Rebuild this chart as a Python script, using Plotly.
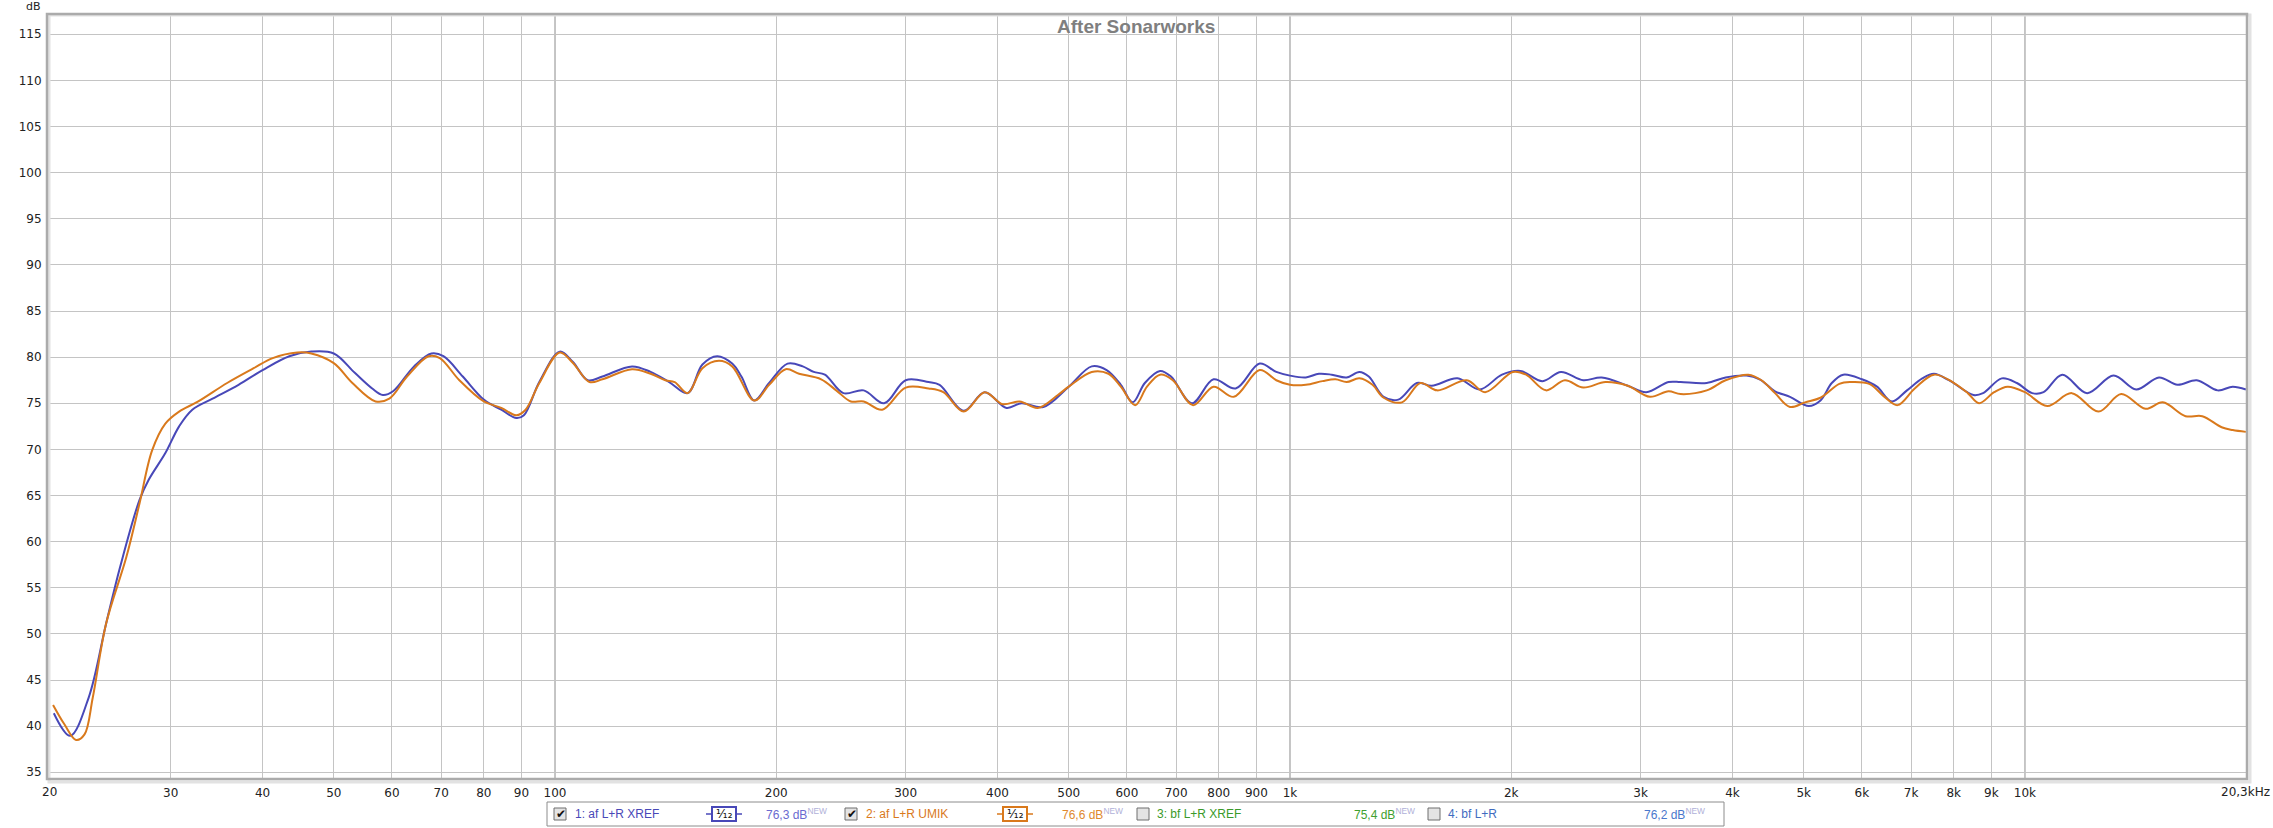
import plotly.graph_objects as go
import math

# ---------------- data ----------------
blue_freq = [20.8, 21.9, 23.2, 24.5, 25.6, 27.2, 28.0, 29.5, 30.8, 32.1, 34.2, 37.1, 40, 43.5, 46.6, 50,
             53.4, 56.4, 58.3, 60.2, 64.3, 67.9, 70.5, 74.9, 80, 84.5, 88.6, 90.7, 95.2, 101.5, 105.7,
             110.8, 116, 127.3, 134.9, 143, 151.5, 158.7, 166.2, 174.2, 179.3, 186.7, 195.6, 207.2,
             217.3, 224.9, 232.9, 246.8, 263, 280.4, 300, 322.3, 333.6, 359.8, 384.2, 411.4, 431.2,
             461.7, 500, 537.3, 563, 588.6, 611, 634.6, 665.5, 688.8, 735.6, 787, 843.5, 909.4, 958,
             1000, 1051, 1095, 1140, 1194, 1243, 1280, 1341, 1404, 1488, 1559, 1690, 1812, 1943, 2059,
             2206, 2337, 2506, 2655, 2881, 3053, 3274, 3400, 3690, 3915, 4180, 4355, 4570, 4790, 5080,
             5270, 5460, 5660, 6000, 6290, 6590, 6910, 7250, 7520, 7880, 8510, 8770, 9300, 9750,
             10230, 10600, 11240, 12150, 13200, 14170, 15220, 16130, 17130, 18290, 19170, 19980]
blue_db = [41.4, 38.95, 43.1, 51.1, 57.25, 64.5, 66.7, 69.6, 72.5, 74.3, 75.5, 77.0, 78.6, 80.1, 80.6, 80.4,
           78.3, 76.6, 75.9, 76.3, 79.0, 80.4, 80.1, 77.9, 75.4, 74.3, 73.4, 73.7, 77.3, 80.6, 79.5,
           77.5, 77.9, 79.0, 78.4, 77.3, 76.1, 79.2, 80.1, 79.3, 77.9, 75.3, 77.2, 79.3,
           79.0, 78.4, 78.1, 76.1, 76.4, 75.0, 77.5, 77.3, 77.0, 74.2, 76.2, 74.5, 75.0,
           74.6, 76.8, 79.0, 78.6, 77.0, 75.1, 77.2, 78.5, 77.9, 75.0, 77.6, 76.6, 79.3, 78.4,
           78.0, 77.8, 78.2, 78.1, 77.8, 78.4, 77.9, 75.7, 75.4, 77.2, 76.9, 77.7, 76.5, 78.1, 78.5,
           77.4, 78.4, 77.5, 77.8, 76.9, 76.2, 77.3, 77.3, 77.2, 77.8, 78.0, 77.6, 76.3, 75.7, 74.7,
           75.3, 77.2, 78.1, 77.6, 76.8, 75.2, 76.4, 77.7, 78.2, 77.5, 75.9, 76.1, 77.7, 77.2,
           76.1, 76.2, 78.1, 76.1, 78.0, 76.5, 77.8, 77.0, 77.5, 76.4, 76.8, 76.5]

orange_freq = [20.75, 21.5, 22.3, 22.9, 23.5, 24.5, 26.1, 27.2, 28.3, 29.5, 30.8, 32.7, 35.8, 38.9, 41.3,
               44.6, 46.6, 50, 53, 57, 59.5, 62.9, 67.3, 69.7, 74.1, 80, 84.5, 88.6, 91.2, 95.2, 101.5,
               105.7, 111.4, 116, 127.3, 134.9, 141.3, 145.5, 151.5, 158.7, 167.1, 174.2, 186.7, 195.6,
               206, 214.8, 230.2, 241.3, 252.6, 263, 278.7, 300, 322.3, 337.5, 359.8, 384.2, 406.4,
               428.8, 453.8, 483.3, 500, 537.3, 566.3, 588.6, 615.6, 638.9, 665.5, 692.7, 738.2, 787,
               838.5, 909.4, 958, 1000, 1051, 1107, 1153, 1194, 1243, 1295, 1341, 1420, 1505, 1586,
               1740, 1843, 2010, 2095, 2230, 2366, 2506, 2687, 2881, 3088, 3274, 3400, 3690, 3915,
               4205, 4380, 4570, 4790, 5020, 5270, 5590, 5790, 6140, 6440, 6710, 7080, 7520, 7970,
               8360, 8660, 9080, 9470, 10000, 10725, 11580, 12590, 13520, 14590, 15400, 16540, 17430,
               18520, 19170, 19980]
orange_db = [42.3, 40.2, 38.5, 39.1, 43.1, 51.1, 58.3, 64.1, 69.9, 72.8, 74.1, 75.2, 77.2, 78.8, 79.9,
             80.5, 80.4, 79.35, 77.2, 75.2, 75.5, 77.9, 80.1, 79.9, 77.5, 75.2, 74.5, 73.7, 74.3, 77.2, 80.5,
             79.4, 77.3, 77.6, 78.7, 78.2, 77.5, 77.3, 76.1, 78.8, 79.6, 79.0, 75.3, 77.0,
             78.7, 78.2, 77.6, 76.4, 75.2, 75.2, 74.3, 76.7, 76.6, 76.2, 74.1, 76.2, 74.9,
             75.2, 74.5, 75.9, 76.8, 78.4, 78.2, 76.8, 74.8, 76.8, 78.1, 77.5, 74.8, 76.8,
             75.7, 78.6, 77.5, 77.0, 77.0, 77.4, 77.6, 77.3, 77.7, 77.0, 75.6, 75.1, 77.2, 76.4,
             77.5, 76.2, 78.4, 78.1, 76.4, 77.5, 76.7, 77.3, 76.9, 75.7, 76.3, 76.0, 76.4, 77.5,
             78.1, 77.5, 76.1, 74.6, 75.1, 75.6, 77.1, 77.3, 77.1, 75.7, 74.8, 76.6, 78.1, 77.3,
             76.1, 75.0, 76.2, 76.8, 76.2, 74.7, 76.1, 74.1, 76.0, 74.4, 75.1, 73.6, 73.6,
             72.4, 72.1, 71.9]

x_tick_vals = [30, 40, 50, 60, 70, 80, 90, 100, 200, 300, 400, 500, 600, 700, 800, 900,
               1000, 2000, 3000, 4000, 5000, 6000, 7000, 8000, 9000, 10000]
x_tick_text = ["30", "40", "50", "60", "70", "80", "90", "100", "200", "300", "400", "500", "600",
               "700", "800", "900", "1k", "2k", "3k", "4k", "5k", "6k", "7k", "8k", "9k", "10k"]
x_edge_labels = ["20", "20,3kHz"]
major_freqs = [100, 1000, 10000]
y_tick_vals = list(range(35, 120, 5))

series_names = ["1: af L+R XREF", "2: af L+R UMIK", "3: bf L+R XREF", "4: bf L+R"]
series_levels = ["76,3 dB", "76,6 dB", "75,4 dB", "76,2 dB"]
series_checked = [True, True, False, False]
series_colors = ["#4848b8", "#d9791c", "#3a9a2a", "#3f6cc0"]
level_colors = ["#6a6ad0", "#e0892e", "#3f9f2f", "#4a78cc"]

# ---------------- geometry ----------------
W, H = 2273, 828
L, R, T, B = 47, 2247, 14, 779
x_range = [math.log10(20.36), math.log10(20050)]
y_range = [34.27, 117.2]


def px_x(x):
    return (x - L) / (R - L)


def px_y(y):
    return (B - y) / (B - T)


fig = go.Figure()

fig.add_trace(go.Scatter(x=blue_freq, y=blue_db, mode="lines", name=series_names[0],
                         line=dict(color=series_colors[0], width=2, shape="spline", smoothing=1.0),
                         hoverinfo="x+y"))
fig.add_trace(go.Scatter(x=orange_freq, y=orange_db, mode="lines", name=series_names[1],
                         line=dict(color=series_colors[1], width=2, shape="spline", smoothing=1.0),
                         hoverinfo="x+y"))

font_tick = dict(family="DejaVu Sans", size=12, color="#222222")

fig.update_layout(
    width=W, height=H,
    margin=dict(l=L, r=W - R, t=T, b=H - B),
    paper_bgcolor="white", plot_bgcolor="white",
    showlegend=False,
    xaxis=dict(type="log", range=x_range, tickvals=x_tick_vals, ticktext=x_tick_text,
               showgrid=True, gridcolor="#c4c4c4", gridwidth=1, zeroline=False, showline=False,
               ticks="outside", ticklen=3, tickcolor="rgba(0,0,0,0)", tickfont=font_tick),
    yaxis=dict(range=y_range, tickvals=y_tick_vals, showgrid=True, gridcolor="#c4c4c4", gridwidth=1,
               zeroline=False, showline=False, ticks="outside", ticklen=2,
               tickcolor="rgba(0,0,0,0)", tickfont=font_tick),
)

shapes = []
for f in major_freqs:
    shapes.append(dict(type="line", xref="x", yref="paper", x0=f, x1=f, y0=0, y1=1,
                       line=dict(color="#8a8a8a", width=1), layer="below"))
# plot frame with soft shadow
shapes.append(dict(type="rect", xref="paper", yref="paper", x0=px_x(L + 2), x1=px_x(R + 3),
                   y0=px_y(B + 3), y1=px_y(T + 1), line=dict(color="#e2e2e2", width=3)))
shapes.append(dict(type="rect", xref="paper", yref="paper", x0=0, x1=1, y0=0, y1=1,
                   line=dict(color="#ababab", width=2.5)))

annotations = []
annotations.append(dict(text="<b>After Sonarworks</b>", xref="paper", yref="paper",
                        x=px_x(1136), y=px_y(26), xanchor="center", yanchor="middle",
                        showarrow=False, font=dict(family="Liberation Sans", size=19, color="#7f7f7f")))
annotations.append(dict(text="dB", xref="paper", yref="paper", x=px_x(43), y=px_y(6),
                        xanchor="right", yanchor="middle", showarrow=False,
                        font=dict(family="DejaVu Sans", size=11, color="#222222")))
annotations.append(dict(text=x_edge_labels[0], xref="paper", yref="paper", x=px_x(49), y=px_y(792),
                        xanchor="center", yanchor="middle", showarrow=False, font=font_tick))
annotations.append(dict(text=x_edge_labels[1], xref="paper", yref="paper", x=px_x(2245), y=px_y(792),
                        xanchor="center", yanchor="middle", showarrow=False, font=font_tick))

# ---------------- legend bar ----------------
shapes.append(dict(type="rect", xref="paper", yref="paper", x0=px_x(547), x1=px_x(1724),
                   y0=px_y(826), y1=px_y(802), line=dict(color="#8c8c8c", width=1), fillcolor="white"))

box_x = [554, 845, 1137, 1428]
name_x = [573, 864, 1155, 1446]
level_x = [764, 1060, 1352, 1642]
icon_x = [706, 997]
cy = 814
font_leg = "Liberation Sans"
for i in range(4):
    shapes.append(dict(type="rect", xref="paper", yref="paper", x0=px_x(box_x[i]), x1=px_x(box_x[i] + 12),
                       y0=px_y(cy + 6), y1=px_y(cy - 6), line=dict(color="#6e6e6e", width=1),
                       fillcolor="#e4e4e4"))
    if series_checked[i]:
        annotations.append(dict(text="✔", xref="paper", yref="paper", x=px_x(box_x[i] + 6.5), y=px_y(cy),
                                xanchor="center", yanchor="middle", showarrow=False,
                                font=dict(family="DejaVu Sans", size=12, color="#111111")))
    annotations.append(dict(text=series_names[i], xref="paper", yref="paper", x=px_x(name_x[i]), y=px_y(cy),
                            xanchor="left", yanchor="middle", showarrow=False,
                            font=dict(family=font_leg, size=12, color=series_colors[i])))
    annotations.append(dict(text=series_levels[i] + "<sup><span style='color:#b0b0d8'>NEW</span></sup>",
                            xref="paper", yref="paper", x=px_x(level_x[i]), y=px_y(cy),
                            xanchor="left", yanchor="middle", showarrow=False,
                            font=dict(family=font_leg, size=12, color=level_colors[i])))

for i in range(2):
    x0 = icon_x[i]
    shapes.append(dict(type="line", xref="paper", yref="paper", x0=px_x(x0), x1=px_x(x0 + 36),
                       y0=px_y(cy), y1=px_y(cy), line=dict(color=series_colors[i], width=1.5)))
    shapes.append(dict(type="rect", xref="paper", yref="paper", x0=px_x(x0 + 6), x1=px_x(x0 + 30),
                       y0=px_y(cy + 7), y1=px_y(cy - 7), line=dict(color=series_colors[i], width=2),
                       fillcolor="white"))
    annotations.append(dict(text="¹⁄₁₂", xref="paper", yref="paper", x=px_x(x0 + 18), y=px_y(cy),
                            xanchor="center", yanchor="middle", showarrow=False,
                            font=dict(family="DejaVu Sans", size=12, color="#111111")))

fig.update_layout(shapes=shapes, annotations=annotations)

fig.write_html("out.html", config={"displayModeBar": False},
               post_script="document.body.style.margin='0px';document.body.style.overflow='hidden';")
